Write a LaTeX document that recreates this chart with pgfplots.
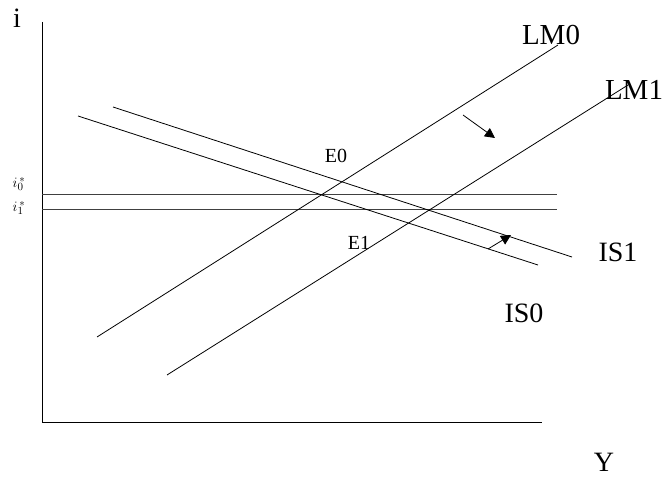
\documentclass[border=0pt]{standalone}
\usepackage{fontspec}
\setmainfont{Liberation Serif}
\usepackage{pgfplots}
\pgfplotsset{compat=1.18}
\usetikzlibrary{arrows.meta}
\begin{document}
\begin{tikzpicture}
\begin{axis}[
  scale only axis, width=667pt, height=481pt,
  xmin=0, xmax=667, ymin=0, ymax=481, y dir=reverse,
  hide axis, clip=false,
  ln/.style={black, solid, no markers, line width=0.8pt},
]
\path[use as bounding box] (axis cs:0,0) rectangle (axis cs:667,481);
% axes
\addplot[ln] coordinates {(42,22) (42,422)};
\addplot[ln] coordinates {(42,422) (542,422)};
% world interest rates
\addplot[ln, black!75] coordinates {(42,194) (557,194)};
\addplot[ln, black!75] coordinates {(42,209) (557,209)};
% LM curves
\addplot[ln] coordinates {(97,337) (558,45)};
\addplot[ln] coordinates {(167,375) (628,85)};
% IS curves
\addplot[ln] coordinates {(113,107) (572,257)};
\addplot[ln] coordinates {(78,116) (538,265)};
% shift arrows
\addplot[ln, -{Triangle[length=10pt,width=10pt]}] coordinates {(463,115) (495,138)};
\addplot[ln, -{Triangle[length=10pt,width=10pt]}] coordinates {(488,249) (511,235)};
% labels
\node[font=\fontsize{28}{30}\selectfont] at (axis cs:17,18) {i};
\node[font=\fontsize{28}{30}\selectfont] at (axis cs:604,462) {Y};
\node[font=\fontsize{29}{30}\selectfont] at (axis cs:551,35) {LM0};
\node[font=\fontsize{29}{30}\selectfont] at (axis cs:634,90) {LM1};
\node[font=\fontsize{28}{30}\selectfont] at (axis cs:618,252) {IS1};
\node[font=\fontsize{28}{30}\selectfont] at (axis cs:524,313) {IS0};
\node[font=\fontsize{20}{22}\selectfont] at (axis cs:336,156) {E0};
\node[font=\fontsize{20}{22}\selectfont] at (axis cs:359,243) {E1};
\node[font=\fontsize{15}{16}\selectfont, inner sep=0pt] at (axis cs:19,184) {$i_0^{\,*}$};
\node[font=\fontsize{15}{16}\selectfont, inner sep=0pt] at (axis cs:19,208) {$i_1^{\,*}$};
\end{axis}
\end{tikzpicture}
\end{document}
